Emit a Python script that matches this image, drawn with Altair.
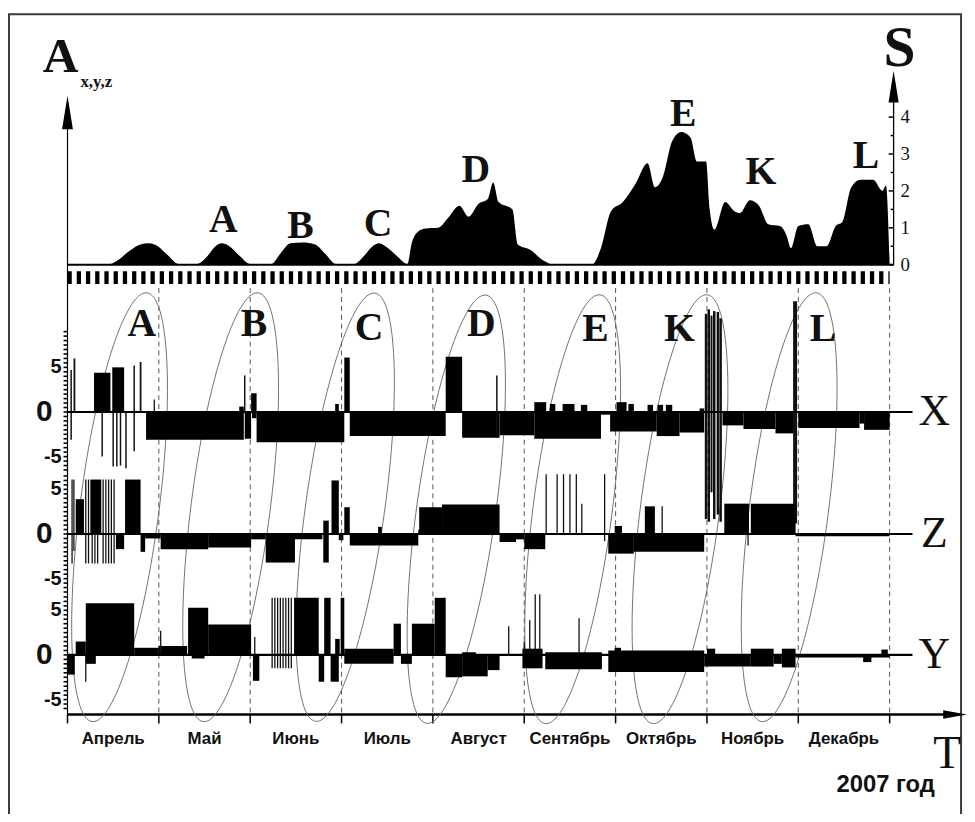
import altair as alt
import pandas as pd

# ---------------- data (time axis: months since 1 April 2007, 0..9) ----------------
months = ["Апрель", "Май", "Июнь", "Июль", "Август", "Сентябрь", "Октябрь", "Ноябрь", "Декабрь"]
month_mid = [0.5, 1.5, 2.5, 3.5, 4.5, 5.5, 6.5, 7.5, 8.5]
month_edge = [0, 1, 2, 3, 4, 5, 6, 7, 8, 9]

# S index (top panel)
s_t = [0.00, 0.44, 0.55, 0.68, 0.80, 0.88, 0.96, 1.08, 1.22, 1.42, 1.52, 1.62, 1.69, 1.76, 1.88, 2.00,
       2.23, 2.33, 2.44, 2.57, 2.71, 2.82, 2.94, 3.14, 3.24, 3.34, 3.41, 3.48, 3.60, 3.72, 3.77, 3.85,
       3.92, 4.06, 4.16, 4.29, 4.39, 4.50, 4.60, 4.66, 4.72, 4.87, 4.93, 5.07, 5.20, 5.34, 5.74, 5.84,
       5.95, 6.08, 6.22, 6.35, 6.43, 6.52, 6.62, 6.72, 6.82, 6.89, 6.99, 7.03, 7.08, 7.20, 7.30, 7.36,
       7.47, 7.57, 7.67, 7.80, 7.87, 7.92, 8.00, 8.11, 8.21, 8.31, 8.41, 8.48, 8.58, 8.68, 8.82, 8.92,
       8.96, 9.00]
s_val = [0.00, 0.00, 0.12, 0.38, 0.55, 0.58, 0.54, 0.30, 0.02, 0.02, 0.20, 0.50, 0.58, 0.52, 0.25, 0.02,
         0.02, 0.30, 0.58, 0.60, 0.55, 0.30, 0.02, 0.02, 0.22, 0.50, 0.58, 0.50, 0.25, 0.02, 0.60, 0.92,
         0.98, 1.00, 1.25, 1.60, 1.30, 1.65, 1.78, 2.23, 1.70, 1.50, 0.55, 0.40, 0.13, 0.00, 0.00, 0.45,
         1.45, 1.70, 2.20, 2.75, 2.10, 2.40, 3.35, 3.60, 3.45, 2.80, 2.80, 1.50, 0.95, 1.70, 1.45, 1.40,
         1.75, 1.60, 1.10, 1.05, 0.80, 0.45, 1.05, 1.10, 0.50, 0.50, 1.05, 1.15, 2.10, 2.30, 2.30, 2.00,
         2.15, 0.00]
s_ticks = [0, 1, 2, 3, 4]
top_lab = ["A", "B", "C", "D", "E", "K", "L"]
top_t = [1.705, 2.55, 3.40, 4.47, 6.74, 7.59, 8.74]
top_s = [1.22, 1.06, 1.11, 2.57, 4.07, 2.51, 2.94]

# X component: blocks (start, end, value) and spikes (t, low, high, width)
x_b0 = [0.29, 0.49, 0.86, 1.88, 1.94, 2.01, 2.02, 2.07, 2.93, 3.03, 3.09, 4.14, 4.32, 4.73, 5.11, 5.11, 5.28, 5.42,
        5.62, 5.84, 5.94, 6.45, 6.70, 6.01, 6.14, 6.35, 6.46, 6.55, 6.92, 7.17, 7.40, 7.75, 8.00, 8.67, 8.72]
x_b1 = [0.47, 0.62, 1.93, 1.93, 2.01, 2.07, 2.07, 3.03, 2.97, 3.09, 4.14, 4.32, 4.73, 5.11, 5.84, 5.24, 5.34, 5.55,
        5.69, 5.94, 6.45, 6.70, 6.97, 6.12, 6.20, 6.41, 6.52, 6.62, 6.97, 7.40, 7.75, 7.95, 8.67, 8.72, 9.00]
x_bv = [4.4, 5.0, -3.1, 0.6, -3.0, 2.1, -0.7, -3.4, 0.9, 6.1, -2.7, 6.2, -2.9, -2.6, -3.0, 1.1, 0.9, 0.9,
        0.8, -0.3, -2.2, -2.7, -2.3, 1.1, 0.9, 0.8, 0.8, 0.8, 0.4, -1.5, -1.9, -2.4, -1.8, -1.3, -2.0]
x_st = [0.04, 0.076, 0.38, 0.50, 0.54, 0.58, 0.64, 0.73, 0.80, 0.95, 1.94, 4.70, 6.99, 7.02, 7.05, 7.08, 7.12, 7.15, 7.965]
x_slo = [-3.1, 0, -5.0, -6.1, -6.1, -6.0, -6.3, -4.4, 0, 0, 0, -2.9, -12.0, -12.3, -9.0, -12.0, -11.5, -12.3, -12.5]
x_shi = [4.7, 6.0, 0, 0, 0, 0, 0, 5.2, 5.6, 1.4, 4.1, 4.1, 11.0, 11.5, 10.8, 11.3, 11.2, 10.5, 12.4]
x_sw = [1.5, 1.8, 1.5, 1.5, 1.5, 1.5, 1.5, 1.5, 1.8, 1.3, 1.5, 1.5, 2.5, 2.5, 2.0, 2.5, 2.5, 2.5, 4.0]

# Z component
z_b0 = [0.09, 0.25, 0.53, 0.63, 0.80, 0.85, 1.02, 1.54, 2.01, 2.17, 2.49, 2.80, 2.80, 2.89, 2.97, 3.03,
        3.09, 3.40, 3.84, 3.85, 4.10, 4.73, 4.91, 5.00, 5.92, 6.20, 5.99, 6.32, 7.19, 7.48, 7.97]
z_b1 = [0.18, 0.37, 0.62, 0.80, 0.85, 1.02, 1.54, 2.01, 2.17, 2.49, 2.79, 2.86, 2.86, 2.97, 3.02, 3.09,
        3.84, 3.44, 3.88, 4.10, 4.73, 4.91, 5.00, 5.23, 6.20, 6.97, 6.07, 6.43, 7.46, 7.97, 9.00]
z_bv = [3.9, 6.1, -1.7, 6.1, -2.0, -0.5, -1.7, -1.5, -0.6, -3.2, -0.6, 1.5, -3.2, 6.0, -0.7, 3.0,
        -1.3, 0.8, 0.5, 3.0, 3.3, -0.9, -0.6, -1.7, -2.2, -2.0, 0.9, 3.1, 3.4, 3.4, -0.25]
z_st = [0.05, 0.07, 0.20, 0.23, 0.27, 0.30, 0.33, 0.39, 0.42, 0.45, 0.48, 0.51, 5.24, 5.36, 5.43, 5.50,
        5.57, 5.63, 5.88, 6.51, 7.45]
z_slo = [-3.3, -1.9, -3.3, -3.3, -3.3, -3.3, -3.3, -3.3, -3.3, -3.3, -3.3, -3.3, 0, 0, 0, 0,
         0, 0, -0.8, 0, -1.3]
z_shi = [6.1, 6.1, 6.1, 6.1, 0, 0, 0, 6.1, 6.1, 6.1, 6.1, 6.1, 6.7, 6.7, 6.7, 6.7,
         6.7, 3.4, 6.7, 3.1, 0]

# Y component
y_b0 = [0.00, 0.09, 0.20, 0.20, 0.73, 1.00, 1.32, 1.36, 1.54, 2.03, 2.48, 2.75, 2.81, 2.88, 2.93, 2.99,
        3.03, 3.03, 3.57, 3.65, 3.77, 4.02, 4.14, 4.32, 4.32, 4.60, 4.98, 4.98, 5.23, 5.23, 5.92, 5.92,
        5.99, 6.97, 7.00, 7.48, 7.48, 7.73, 7.82, 7.82, 7.97, 8.71, 8.91]
y_b1 = [0.08, 0.20, 0.31, 0.73, 1.00, 1.31, 1.54, 1.50, 2.01, 2.10, 2.75, 2.81, 2.88, 2.97, 2.98, 3.03,
        3.57, 3.57, 3.65, 3.77, 4.02, 4.14, 4.32, 4.60, 4.47, 4.73, 5.20, 5.20, 5.85, 5.85, 6.97, 6.97,
        6.06, 7.48, 7.09, 7.73, 7.73, 7.82, 7.97, 7.97, 9.00, 8.80, 8.98]
y_bv = [-2.2, 1.5, -1.0, 5.8, 0.8, 1.0, 5.3, -0.4, 3.4, -2.9, 6.4, -3.0, 6.4, -3.0, 1.8, 6.4,
        0.7, -1.0, 3.5, -1.0, 3.5, 6.4, -2.5, -2.4, 0.3, -1.7, -1.5, 0.7, -1.6, 0.3, -1.9, 0.5,
        0.8, -1.3, 0.7, 0.7, -1.3, -1.0, 0.7, -1.4, -0.3, -0.8, 0.6]
y_st = [0.20, 1.02, 2.05, 2.24, 2.27, 2.30, 2.33, 2.36, 2.39, 2.42, 2.45, 4.83, 5.00, 5.06, 5.12, 5.17, 5.60]
y_slo = [-3.0, 0, 0, -1.5, -1.5, -1.5, -1.5, -1.5, -1.5, -1.5, -1.5, 0, 0, 0, 0, 0, 0]
y_shi = [0, 2.7, 2.0, 6.4, 6.4, 6.4, 6.4, 6.4, 6.4, 6.4, 6.4, 3.2, 1.5, 3.9, 6.8, 6.8, 4.1]

panel_ticks = [5, -5]
low_lab = ["A", "B", "C", "D", "E", "K", "L"]
low_t = [0.814, 2.04, 3.30, 4.53, 5.78, 6.70, 8.27]
low_x = [9.9, 9.9, 9.44, 9.9, 9.33, 9.33, 9.33]

# ellipses grouping the events (centre in time / Z units, tilt in degrees)
ell_t = [0.57, 1.786, 3.04, 4.256, 5.53, 6.705, 7.90]
ell_z = [3.0, 3.0, 3.0, 2.78, 2.78, 2.78, 3.0]
ell_ang = [7.3, 7.3, 7.9, 7.9, 7.3, 7.3, 7.3]

# ---------------- layout ----------------
W, H = 829, 657
PL, PT = 60, 52


def px(page_x):
    return page_x - 68


def py(page_y):
    return page_y - 60


SERIF = "Liberation Serif, Times New Roman, serif"
NARROW = "Liberation Sans Narrow, Arial Narrow, Liberation Sans, sans-serif"

XS = alt.Scale(domain=[0, 9], nice=False, zero=False)
S_DOM = [-12.191, 5.470]
X_DOM = [-33.89, 39.11]
Z_DOM = [-20.22, 52.78]
Y_DOM = [-6.67, 66.33]


def sc(dom):
    return alt.Scale(domain=dom, nice=False, zero=False)


def xf(f):
    return alt.X(f, type="quantitative", scale=XS, axis=None)


def yf(f, dom):
    return alt.Y(f, type="quantitative", scale=sc(dom), axis=None)


one = pd.DataFrame({"k": [0]})

r, k = 0.183, 0.5523
ELLIPSE = (f"M0,-1C{k*r:.4f},-1,{r},{-k},{r},0C{r},{k},{k*r:.4f},1,0,1"
           f"C{-k*r:.4f},1,{-r},{k},{-r},0C{-r},{-k},{-k*r:.4f},-1,0,-1Z")
ARROW_UP = "M0,-1L0.32,1L-0.32,1Z"
ARROW_RIGHT = "M1,0L-1,-0.36L-1,0.36Z"

# ---------------- decorations ----------------
frame = alt.Chart(one).mark_rect(fillOpacity=0, stroke="#3c3c3c", strokeWidth=2).encode(
    x=alt.value(-59), x2=alt.value(901), y=alt.value(-49), y2=alt.value(790))

edges_df = pd.DataFrame({"t": month_edge})
dashed = alt.Chart(edges_df[edges_df.t > 0]).mark_rule(
    strokeDash=[5, 4], color="#555555", strokeWidth=1).encode(
    x=xf("t"), y=alt.value(py(287)), y2=alt.value(H))
bottom_ticks = alt.Chart(edges_df).mark_rule(color="black", strokeWidth=1.5).encode(
    x=xf("t"), y=alt.value(H), y2=alt.value(H + 9))
bottom_axis = alt.Chart(one).mark_rule(color="black", strokeWidth=2.5).encode(
    x=alt.value(0), x2=alt.value(px(953)), y=alt.value(H))
bottom_arrow = alt.Chart(one).mark_point(shape=ARROW_RIGHT, filled=True, color="black", opacity=1,
                                         size=576).encode(x=alt.value(px(963)), y=alt.value(H))
left_axis = alt.Chart(one).mark_rule(color="black", strokeWidth=1.2).encode(
    x=alt.value(0), y=alt.value(py(120)), y2=alt.value(H))
left_arrow = alt.Chart(one).mark_point(shape=ARROW_UP, filled=True, color="black", opacity=1,
                                       size=1156).encode(x=alt.value(0), y=alt.value(py(110)))
hatch = alt.Chart(one).mark_rule(strokeWidth=13, strokeDash=[4.3, 5.0], color="black").encode(
    x=alt.XDatum(0, scale=XS, axis=None), x2=alt.datum(9), y=alt.value(py(276.5)))

month_df = pd.DataFrame({"mid": month_mid, "name": months})
month_text = alt.Chart(month_df).mark_text(font=NARROW, fontSize=17, fontWeight="bold",
                                           baseline="middle", align="center", color="#111").encode(
    x=xf("mid"), y=alt.value(py(742)), text="name:N")
t_text = alt.Chart(one).mark_text(text="T", font=SERIF, fontSize=46, baseline="middle",
                                  align="center", color="#111").encode(
    x=alt.value(px(955)), y=alt.value(py(757)))
year_text = alt.Chart(one).mark_text(text="2007 год", font=NARROW, fontSize=24, fontWeight="bold",
                                     baseline="middle", align="center", color="#111").encode(
    x=alt.value(px(893)), y=alt.value(py(788)))
a_text = alt.Chart(one).mark_text(text="A", font=SERIF, fontSize=50, fontWeight="bold",
                                  baseline="middle", align="center", color="#111").encode(
    x=alt.value(px(61)), y=alt.value(py(54)))
a_sub = alt.Chart(one).mark_text(text="x,y,z", font=SERIF, fontSize=17, fontWeight="bold",
                                 baseline="middle", align="left", color="#111").encode(
    x=alt.value(px(81)), y=alt.value(py(79)))
s_title = alt.Chart(one).mark_text(text="S", font=SERIF, fontSize=58, fontWeight="bold",
                                   baseline="middle", align="center", color="#111").encode(
    x=alt.value(px(907)), y=alt.value(py(46)))

decor = alt.layer(frame, dashed, hatch, bottom_axis, bottom_ticks, bottom_arrow, left_axis, left_arrow,
                  month_text, t_text, year_text, a_text, a_sub, s_title)

# ---------------- ellipses ----------------
ell_df = pd.DataFrame({"t": ell_t, "z": ell_z, "ang": ell_ang})
ellipses = alt.Chart(ell_df).mark_point(shape=ELLIPSE, filled=False, color="#6a6a6a", strokeWidth=0.9,
                                        opacity=1, size=190000).encode(
    x=xf("t"), y=yf("z", Z_DOM), angle=alt.Angle("ang:Q", scale=None))

# ---------------- S panel ----------------
s_df = pd.DataFrame({"t": s_t, "s": s_val})
s_area = alt.Chart(s_df).mark_area(color="black", interpolate="monotone").encode(
    x=xf("t"), y=yf("s", S_DOM), y2=alt.datum(0))
s_base = alt.Chart(one).mark_rule(color="black", strokeWidth=2).encode(
    x=alt.XDatum(0, scale=XS, axis=None), x2=alt.value(px(901)),
    y=alt.YDatum(0, scale=sc(S_DOM), axis=None))
s_axis = alt.Chart(one).mark_rule(color="black", strokeWidth=1.3).encode(
    x=alt.value(px(901)), y=alt.value(py(264)), y2=alt.value(py(98)))
s_arrow = alt.Chart(one).mark_point(shape=ARROW_UP, filled=True, color="black", opacity=1,
                                    size=1024).encode(x=alt.value(px(901)), y=alt.value(py(84)))
st_df = pd.DataFrame({"v": s_ticks, "lab": [str(v) for v in s_ticks]})
sh_df = pd.DataFrame({"v": [v + 0.5 for v in s_ticks]})
s_major = alt.Chart(st_df).mark_rule(color="black", strokeWidth=1.5).encode(
    x=alt.value(px(896)), x2=alt.value(px(901)), y=yf("v", S_DOM))
s_minor = alt.Chart(sh_df).mark_rule(color="black", strokeWidth=1.5).encode(
    x=alt.value(px(898)), x2=alt.value(px(901)), y=yf("v", S_DOM))
s_labels = alt.Chart(st_df).mark_text(font=SERIF, fontSize=19, align="left", baseline="middle",
                                      color="#111").encode(
    x=alt.value(px(908)), y=yf("v", S_DOM), text="lab:N")
top_df = pd.DataFrame({"t": top_t, "s": top_s, "lab": top_lab})
s_letters = alt.Chart(top_df).mark_text(font=SERIF, fontSize=40, fontWeight="bold", align="center",
                                        baseline="middle", color="#111").encode(
    x=xf("t"), y=yf("s", S_DOM), text="lab:N")
s_panel = alt.layer(s_area, s_base, s_axis, s_arrow, s_major, s_minor, s_labels, s_letters)


# ---------------- component panels ----------------
def panel(name, dom, b0, b1, bv, st, slo, shi, sw, minor, extra=None):
    blocks = pd.DataFrame({"t0": b0, "t1": b1, "v": bv})
    spikes = pd.DataFrame({"t": st, "lo": slo, "hi": shi, "w": sw})
    zero = alt.Chart(one).mark_rule(color="black", strokeWidth=2.2).encode(
        x=alt.XDatum(0, scale=XS, axis=None), x2=alt.datum(9.25),
        y=alt.YDatum(0, scale=sc(dom), axis=None))
    rects = alt.Chart(blocks).mark_rect(color="black").encode(
        x=xf("t0"), x2="t1:Q", y=yf("v", dom), y2=alt.datum(0))
    rules = alt.Chart(spikes).mark_rule(color="#111").encode(
        x=xf("t"), y=yf("lo", dom), y2="hi:Q", strokeWidth=alt.StrokeWidth("w:Q", scale=None))
    mt = alt.Chart(pd.DataFrame({"v": minor})).mark_rule(color="black", strokeWidth=1.6).encode(
        x=alt.value(-4), x2=alt.value(0), y=yf("v", dom))
    tl = alt.Chart(pd.DataFrame({"v": panel_ticks, "lab": [str(v) for v in panel_ticks]})).mark_text(
        font=NARROW, fontSize=20, fontWeight="bold", align="right", baseline="middle", color="#111").encode(
        x=alt.value(-6), y=yf("v", dom), text="lab:N")
    t0 = alt.Chart(one).mark_text(text="0", font=NARROW, fontSize=30, fontWeight="bold", align="right",
                                  baseline="middle", color="#111").encode(
        x=alt.value(-15), y=alt.YDatum(0, scale=sc(dom), axis=None))
    lab = alt.Chart(one).mark_text(text=name, font=SERIF, fontSize=44, align="center", baseline="middle",
                                   color="#111").encode(
        x=alt.value(px(942)), y=alt.YDatum(0, scale=sc(dom), axis=None))
    layers = [rects, rules, zero, mt, tl, t0, lab]
    if extra is not None:
        layers.append(extra)
    return alt.layer(*layers)


half = [i * 0.5 for i in range(-13, 14)]
low_df = pd.DataFrame({"t": low_t, "v": low_x, "lab": low_lab})
low_letters = alt.Chart(low_df).mark_text(font=SERIF, fontSize=40, fontWeight="bold", align="center",
                                          baseline="middle", color="#111").encode(
    x=xf("t"), y=yf("v", X_DOM), text="lab:N")

x_panel = panel("X", X_DOM, x_b0, x_b1, x_bv, x_st, x_slo, x_shi, x_sw,
                [i * 0.5 for i in range(-13, 19)], low_letters)
z_panel = panel("Z", Z_DOM, z_b0, z_b1, z_bv, z_st, z_slo, z_shi, [1.3] * len(z_st), half)
y_panel = panel("Y", Y_DOM, y_b0, y_b1, y_bv, y_st, y_slo, y_shi, [1.3] * len(y_st),
                [i * 0.5 for i in range(-12, 14)])

chart = alt.layer(decor, ellipses, s_panel, x_panel, z_panel, y_panel).resolve_scale(
    y="independent").properties(
    width=W, height=H,
    padding={"left": PL, "top": PT, "right": 967 - PL - W, "bottom": 806 - PT - H},
    autosize=alt.AutoSizeParams(type="none"),
    background="white",
).configure_view(strokeWidth=0)

chart.save("out.html", embed_options={"renderer": "svg", "actions": False})
